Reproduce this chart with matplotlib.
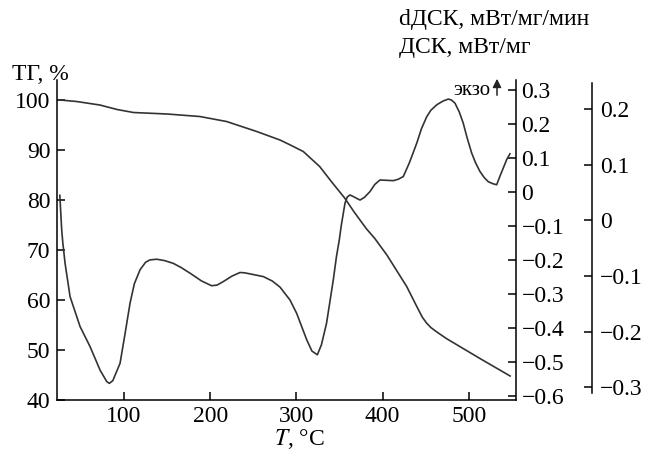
import numpy as np
import matplotlib
matplotlib.use('Agg')
import matplotlib.pyplot as plt
from matplotlib.ticker import FuncFormatter

plt.rcParams['font.family'] = ['Liberation Serif', 'DejaVu Serif']
plt.rcParams['font.size'] = 17
plt.rcParams['mathtext.fontset'] = 'stix'
plt.rcParams['axes.unicode_minus'] = True

# ТГ кривая (температура, %)
T_tg = [26, 45, 72, 92, 111, 150, 188, 219, 254, 281, 293, 308, 327, 341, 356, 367,
        381, 391, 405, 428, 440, 446, 451, 456, 463, 474, 513, 548]
tg = [100.0, 99.7, 99.0, 98.1, 97.5, 97.2, 96.7, 95.7, 93.7, 92.0, 91.0, 89.7, 86.7, 83.6,
      80.4, 77.6, 74.3, 72.3, 69.0, 62.7, 58.6, 56.6, 55.4, 54.5, 53.6, 52.3, 48.3, 44.8]

# ДСК кривая (температура, мВт/мг)
T_dsc = [25.5, 27.7, 29.0, 31.6, 37.4, 49, 60.6, 72.2, 80, 83, 87, 95.4, 101, 107, 112,
         118.6, 125, 130, 138, 147, 157, 166, 176.6, 190, 201.7, 208, 215, 225, 234.6,
         240, 246, 261.6, 272, 281, 292.6, 300.3, 306, 312, 318, 324.3, 329, 335, 342.8,
         346.5, 349.8, 352, 356.4, 359, 362.2, 367, 373.8, 379, 385.4, 391, 397, 405,
         412.4, 418, 424, 431, 439.6, 445, 451.2, 456, 462.8, 470, 476.3, 480, 484, 489,
         493.6, 498, 503.4, 508, 513, 518, 522.6, 528, 532.4, 536, 540, 544, 547.8]
dsc = [-0.01, -0.112, -0.15, -0.21, -0.308, -0.396, -0.455, -0.524, -0.558, -0.563,
       -0.555, -0.504, -0.42, -0.327, -0.27, -0.229, -0.207, -0.2, -0.198, -0.202,
       -0.21, -0.222, -0.239, -0.262, -0.276, -0.274, -0.264, -0.248, -0.237, -0.238,
       -0.241, -0.249, -0.262, -0.28, -0.318, -0.357, -0.395, -0.435, -0.468, -0.479,
       -0.45, -0.386, -0.259, -0.19, -0.141, -0.1, -0.033, -0.015, -0.009, -0.015,
       -0.024, -0.016, 0.001, 0.022, 0.035, 0.034, 0.033, 0.037, 0.045, 0.085, 0.143,
       0.185, 0.221, 0.24, 0.256, 0.267, 0.273, 0.27, 0.261, 0.235, 0.202, 0.16, 0.114,
       0.085, 0.06, 0.042, 0.03, 0.024, 0.021, 0.045, 0.07, 0.095, 0.112]

x_ticks = [100, 200, 300, 400, 500]
tg_ticks = [40, 50, 60, 70, 80, 90, 100]
dsc_ticks = [-0.6, -0.5, -0.4, -0.3, -0.2, -0.1, 0, 0.1, 0.2, 0.3]
ddsc_ticks = [-0.3, -0.2, -0.1, 0, 0.1, 0.2]


def fmt(v, pos):
    s = '%g' % round(v, 2)
    return s.replace('-', '\u2212')


fig = plt.figure(figsize=(6.52, 4.58), dpi=100)
ax = fig.add_axes([0.0879, 0.1266, 0.7035, 0.6987])
ax2 = ax.twinx()
ax3 = ax.twinx()

lw = 1.2
ax.plot(T_tg, tg, c='#333333', lw=lw)
ax2.plot(T_dsc, dsc, c='#333333', lw=lw)

ax.set_xlim(22.6, 554.8)
ax.set_ylim(40, 104)
ax2.set_ylim(-0.612, 0.329)
ax3.set_ylim(-0.323, 0.252)

ax.set_xticks(x_ticks)
ax.set_yticks(tg_ticks)
ax2.set_yticks(dsc_ticks)
ax3.set_yticks(ddsc_ticks)
ax2.yaxis.set_major_formatter(FuncFormatter(fmt))
ax3.yaxis.set_major_formatter(FuncFormatter(fmt))

for a in (ax, ax2, ax3):
    a.spines['top'].set_visible(False)
    for s in a.spines.values():
        s.set_linewidth(1.1)
ax.spines['right'].set_visible(False)
for s in ('left', 'bottom'):
    ax2.spines[s].set_visible(False)
    ax3.spines[s].set_visible(False)
ax3.spines['right'].set_position(('axes', 1.165))
ax3.spines['right'].set_bounds(-0.31, 0.247)

ax.tick_params(axis='both', direction='in', length=6, width=1.1, pad=5)
ax.tick_params(axis='x', pad=4)
ax2.tick_params(axis='y', direction='in', length=6, width=1.1, pad=4)
ax3.tick_params(axis='y', direction='in', length=6, width=1.1, pad=6)

ax.set_xlabel('$T$, °C', labelpad=0, x=0.527)

fig.text(0.018, 0.826, 'ТГ, %', ha='left', va='baseline')
fig.text(0.612, 0.945, 'dДСК, мВт/мг/мин', ha='left', va='baseline')
fig.text(0.612, 0.884, 'ДСК, мВт/мг', ha='left', va='baseline')
fig.text(0.695, 0.792, 'экзо', ha='left', va='baseline', fontsize=15)
fig.patches.append(matplotlib.patches.FancyArrowPatch(
    (497 / 652, 1 - 98 / 458), (497 / 652, 1 - 76 / 458), transform=fig.transFigure,
    arrowstyle='-|>,head_length=5,head_width=2.5', color='#222222', lw=1.1))

plt.savefig('out.png', dpi=100)
